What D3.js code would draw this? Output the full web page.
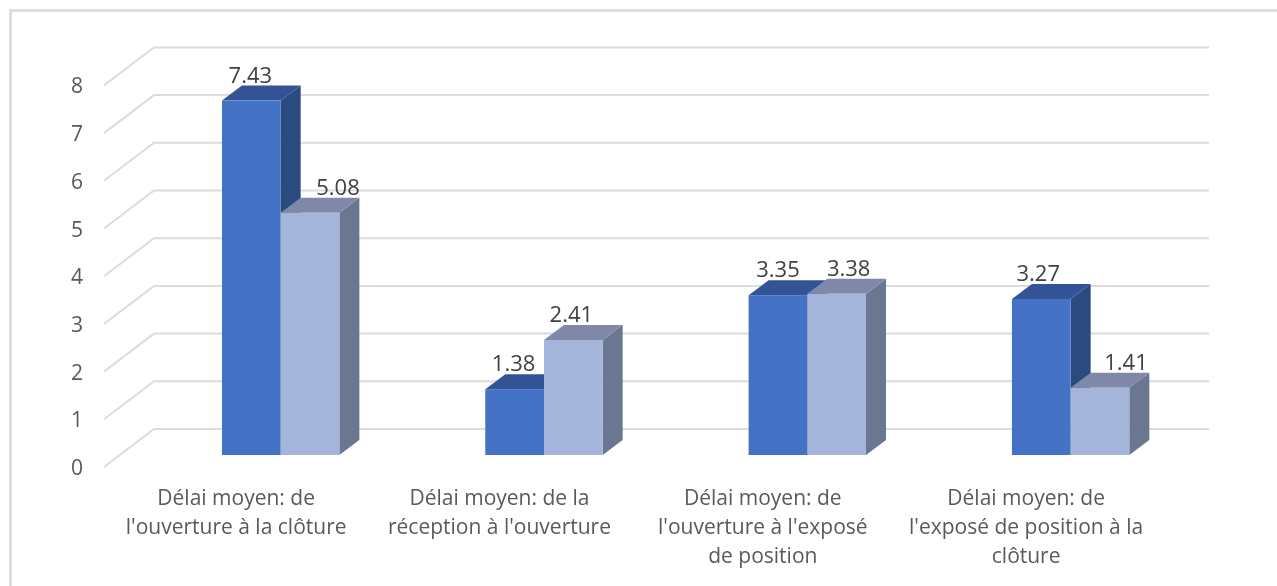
<!DOCTYPE html>
<html>
<head>
<meta charset="utf-8">
<script src="https://cdn.jsdelivr.net/npm/d3@7"></script>
<style>
    html, body { margin: 0; padding: 0; background: #fff; overflow: hidden; }
    svg { filter: blur(0.4px); }
    text { font-family: "Open Sans", "Noto Sans", sans-serif; }
</style>
</head>
<body>
<script>
const width = 1277;
const height = 586;

const categories = [
    ["Délai moyen: de", "l'ouverture à la clôture"],
    ["Délai moyen: de la", "réception à l'ouverture"],
    ["Délai moyen: de", "l'ouverture à l'exposé", "de position"],
    ["Délai moyen: de", "l'exposé de position à la", "clôture"]
];
const seriesA = [7.43, 1.38, 3.35, 3.27];
const seriesB = [5.08, 2.41, 3.38, 1.41];
const yTicks = [0, 1, 2, 3, 4, 5, 6, 7, 8];

// the value labels were moved by hand in the original, so they need a nudge
const nudgeA = [-1, -1, 0, -3];
const nudgeB = [28, -2, 12, 26];

// depth of the fake 3d box
const depthX = 20;
const depthY = -15;
const wallDepthX = 50;
const wallDepthY = -38;

const x_scale = d3.scaleBand().domain(d3.range(categories.length)).range([149, 1202.3]);
const inner = d3.scaleBand().domain([0, 1]).range([-58.7, 58.7]);
const y_scale = d3.scaleLinear().domain([0, 8]).range([455, 73.4]);

const svg = d3.select("body").append("svg")
    .attr("width", width)
    .attr("height", height)
    .style("display", "block");

// outer frame, only left and top show in the crop
svg.append("path")
    .attr("d", "M10.5,586V10.5H1277")
    .attr("fill", "none")
    .attr("stroke", "#d9d9d9")
    .attr("stroke-width", 2.5);

// gridlines, wall + floor part
const grid = svg.append("g").selectAll("g").data(yTicks).enter().append("g");
const frontX = 104;
const frontOffset = 12;
grid.append("path")
    .attr("d", function (d) {
        const y = y_scale(d) + frontOffset;
        return "M" + frontX + "," + y + "L" + (frontX + wallDepthX) + "," + (y + wallDepthY) + "H1209";
    })
    .attr("fill", "none")
    .attr("stroke", "#dcdcdc")
    .attr("stroke-width", 2);

// y labels
svg.append("g").selectAll("text").data(yTicks).enter().append("text")
    .attr("x", 77)
    .attr("y", (d) => y_scale(d) + frontOffset + 8)
    .attr("text-anchor", "middle")
    .attr("font-size", 21)
    .attr("fill", "#595959")
    .text((d) => d);

// one 3d bar = side, top and front faces
function drawBars(values, nudge, idx, colors) {
    const w = inner.bandwidth();
    const g = svg.append("g").selectAll("g").data(values).enter().append("g");
    g.append("path")
        .attr("fill", colors.side)
        .attr("d", function (d, i) {
            const x = x_scale(i) + x_scale.bandwidth() / 2 + inner(idx) + w;
            return "M" + x + "," + y_scale(d) + "l" + depthX + "," + depthY + "V" + (y_scale(0) + depthY) + "l" + (-depthX) + "," + (-depthY) + "Z";
        });
    g.append("path")
        .attr("fill", colors.top)
        .attr("d", function (d, i) {
            const x = x_scale(i) + x_scale.bandwidth() / 2 + inner(idx);
            return "M" + x + "," + y_scale(d) + "l" + depthX + "," + depthY + "h" + w + "l" + (-depthX) + "," + (-depthY) + "Z";
        });
    g.append("rect")
        .attr("x", (d, i) => x_scale(i) + x_scale.bandwidth() / 2 + inner(idx))
        .attr("y", (d) => y_scale(d))
        .attr("width", w)
        .attr("height", (d) => y_scale(0) - y_scale(d))
        .attr("fill", colors.front);
    g.append("text")
        .attr("x", (d, i) => x_scale(i) + x_scale.bandwidth() / 2 + inner(idx) + w / 2 + nudge[i])
        .attr("y", (d) => y_scale(d) - 18)
        .attr("text-anchor", "middle")
        .attr("font-size", 22)
        .attr("fill", "#404040")
        .text((d) => d.toFixed(2));
}

const colorsA = { front: "#4472c4", side: "#2a4a80", top: "#325497" };
const colorsB = { front: "#a5b4da", side: "#6b7690", top: "#7f88a8" };

// draw series by series so the left bar's side is hidden by the right bar
drawBars(seriesA, nudgeA, 0, colorsA);
drawBars(seriesB, nudgeB, 1, colorsB);

// category labels
const labels = svg.append("g").selectAll("text").data(categories).enter().append("text")
    .attr("text-anchor", "middle")
    .attr("font-size", 21)
    .attr("fill", "#595959");
labels.selectAll("tspan").data((d, i) => d.map((t) => ({ t: t, i: i }))).enter().append("tspan")
    .attr("x", (d) => x_scale(d.i) + x_scale.bandwidth() / 2 - 44.5)
    .attr("y", (d, j) => 505 + j * 29)
    .text((d) => d.t);
</script>
</body>
</html>
